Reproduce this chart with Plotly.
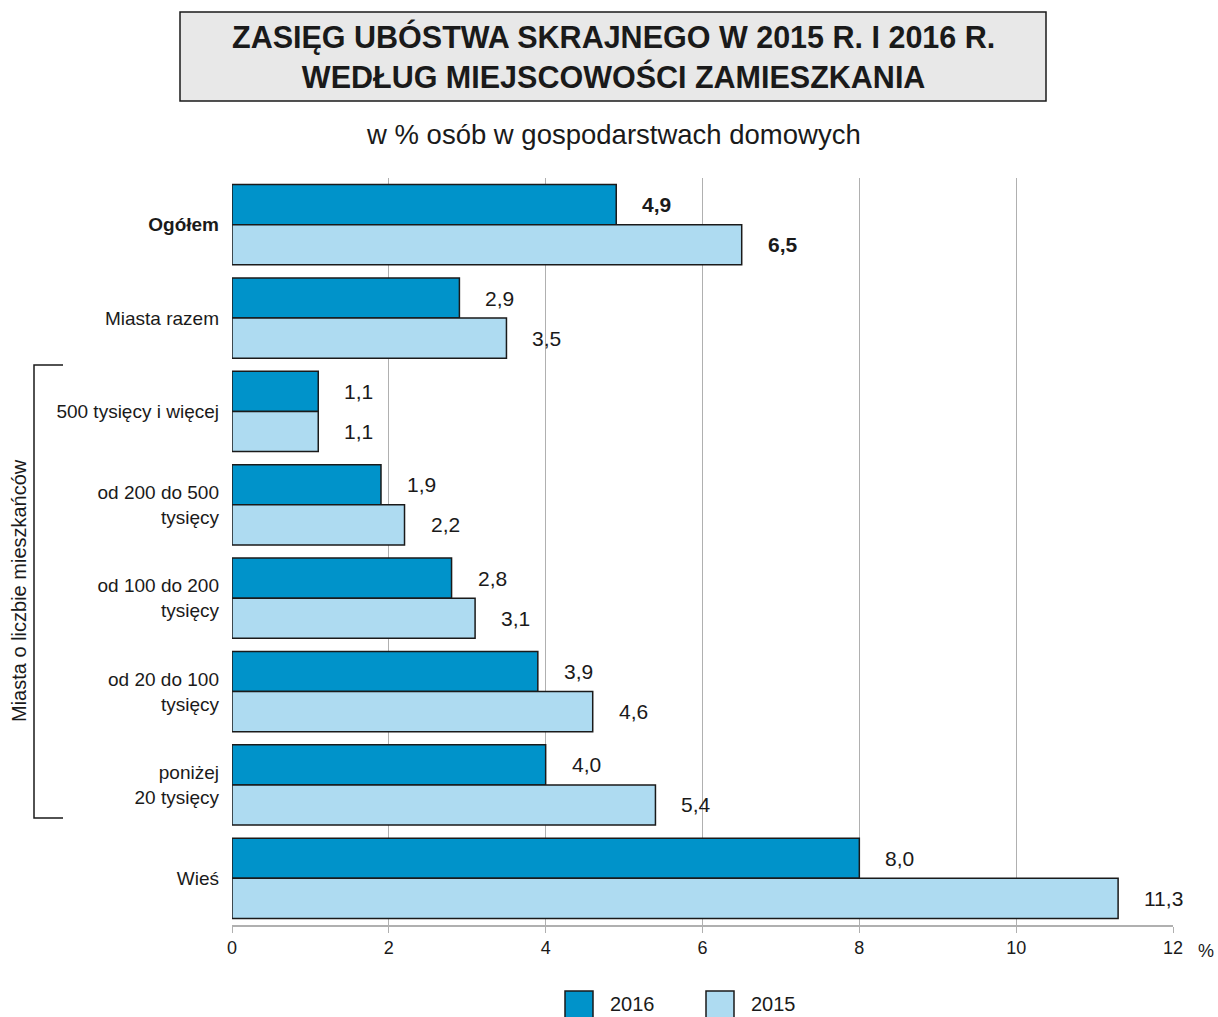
import plotly.graph_objects as go

categories = [
    "Ogółem",
    "Miasta razem",
    "500 tysięcy i więcej",
    "od 200 do 500<br>tysięcy",
    "od 100 do 200<br>tysięcy",
    "od 20 do 100<br>tysięcy",
    "poniżej<br>20 tysięcy",
    "Wieś",
]
values_2016 = [4.9, 2.9, 1.1, 1.9, 2.8, 3.9, 4.0, 8.0]
values_2015 = [6.5, 3.5, 1.1, 2.2, 3.1, 4.6, 5.4, 11.3]
x_ticks = [0, 2, 4, 6, 8, 10, 12]

COLOR_2016 = "#0093CA"
COLOR_2015 = "#AEDBF1"
FONT = "Liberation Sans, Arial, sans-serif"

W, H = 1218, 1017
L, R, T, B = 232, 1173, 178, 925


def px_x(p):
    return (p - L) / (R - L)


def px_y(p):
    return (B - p) / (B - T)


def fmt(v):
    return f"{v:.1f}".replace(".", ",")


fig = go.Figure()
for name, vals, color in [("2016", values_2016, COLOR_2016), ("2015", values_2015, COLOR_2015)]:
    fig.add_trace(
        go.Bar(
            name=name,
            y=categories,
            x=vals,
            orientation="h",
            marker=dict(color=color, line=dict(color="#1a1a1a", width=1.5)),
            offsetgroup=name,
        )
    )

# value labels next to the bars
annotations = []
for idx, (name, vals) in enumerate([("2016", values_2016), ("2015", values_2015)]):
    for cat, v in zip(categories, vals):
        text = fmt(v)
        if cat == "Ogółem":
            text = f"<b>{text}</b>"
        annotations.append(
            dict(
                x=v,
                y=cat,
                xref="x",
                yref="y",
                text=text,
                showarrow=False,
                xanchor="left",
                xshift=24,
                yshift=20 if idx == 0 else -20,
                font=dict(size=21, color="#1a1a1a", family=FONT),
            )
        )

# title, subtitle, side label, unit, legend
annotations += [
    dict(
        x=px_x(613), y=px_y(57), xref="paper", yref="paper",
        text="<b>ZASIĘG UBÓSTWA SKRAJNEGO W 2015 R. I 2016 R.<br>WEDŁUG MIEJSCOWOŚCI ZAMIESZKANIA</b>",
        showarrow=False, font=dict(size=30.5, color="#1a1a1a", family=FONT),
        xanchor="center", yanchor="middle",
    ),
    dict(
        x=px_x(613), y=px_y(135), xref="paper", yref="paper",
        text="w % osób w gospodarstwach domowych",
        showarrow=False, font=dict(size=27.5, color="#1a1a1a", family=FONT),
        xanchor="center", yanchor="middle",
    ),
    dict(
        x=px_x(19), y=px_y(591), xref="paper", yref="paper",
        text="Miasta o liczbie mieszkańców", textangle=-90,
        showarrow=False, font=dict(size=20, color="#1a1a1a", family=FONT),
        xanchor="center", yanchor="middle",
    ),
    dict(
        x=px_x(1216), y=px_y(951), xref="paper", yref="paper",
        text="%", showarrow=False, font=dict(size=18, color="#1a1a1a", family=FONT),
        xanchor="right", yanchor="middle",
    ),
    dict(
        x=px_x(608), y=px_y(1004), xref="paper", yref="paper",
        text="2016", showarrow=False, font=dict(size=20, color="#1a1a1a", family=FONT),
        xanchor="left", yanchor="middle",
    ),
    dict(
        x=px_x(749), y=px_y(1004), xref="paper", yref="paper",
        text="2015", showarrow=False, font=dict(size=20, color="#1a1a1a", family=FONT),
        xanchor="left", yanchor="middle",
    ),
]

shapes = [
    # title box
    dict(type="rect", xref="paper", yref="paper",
         x0=px_x(180), x1=px_x(1046), y0=px_y(101), y1=px_y(12),
         fillcolor="#E8E8E8", line=dict(color="#1a1a1a", width=1.5), layer="below"),
    # bracket
    dict(type="path", xref="paper", yref="paper",
         path=f"M {px_x(63)},{px_y(365)} L {px_x(34)},{px_y(365)} L {px_x(34)},{px_y(818)} L {px_x(63)},{px_y(818)}",
         line=dict(color="#1a1a1a", width=1.5)),
    # legend boxes
    dict(type="rect", xref="paper", yref="paper",
         x0=px_x(565), x1=px_x(593), y0=px_y(1022), y1=px_y(991),
         fillcolor=COLOR_2016, line=dict(color="#1a1a1a", width=1.5)),
    dict(type="rect", xref="paper", yref="paper",
         x0=px_x(706), x1=px_x(734), y0=px_y(1022), y1=px_y(991),
         fillcolor=COLOR_2015, line=dict(color="#1a1a1a", width=1.5)),
]

fig.update_layout(
    width=W,
    height=H,
    margin=dict(l=L, r=W - R, t=T, b=H - B),
    paper_bgcolor="white",
    plot_bgcolor="white",
    barmode="group",
    bargap=0.14,
    bargroupgap=0,
    showlegend=False,
    font=dict(family=FONT, color="#1a1a1a"),
    annotations=annotations,
    shapes=shapes,
)
fig.update_xaxes(
    range=[0, 12],
    tickvals=x_ticks,
    showgrid=True,
    gridcolor="#B0B0B0",
    gridwidth=1.2,
    zeroline=False,
    showline=True,
    linecolor="#B0B0B0",
    linewidth=1.5,
    ticks="outside",
    ticklen=6,
    tickcolor="#B0B0B0",
    tickfont=dict(size=18, family=FONT, color="#1a1a1a"),
)
fig.update_yaxes(
    autorange="reversed",
    tickvals=categories,
    ticktext=[f"<b>{c}</b>" if c == "Ogółem" else c for c in categories],
    showgrid=False,
    showline=False,
    zeroline=False,
    ticks="",
    ticklabelstandoff=12,
    tickfont=dict(size=19, family=FONT, color="#1a1a1a"),
)

# drop the default page margin so the figure fills the window exactly
fig.write_html(
    "out.html",
    config={"displayModeBar": False},
    post_script="document.body.style.margin='0';document.body.style.overflow='hidden';",
)
